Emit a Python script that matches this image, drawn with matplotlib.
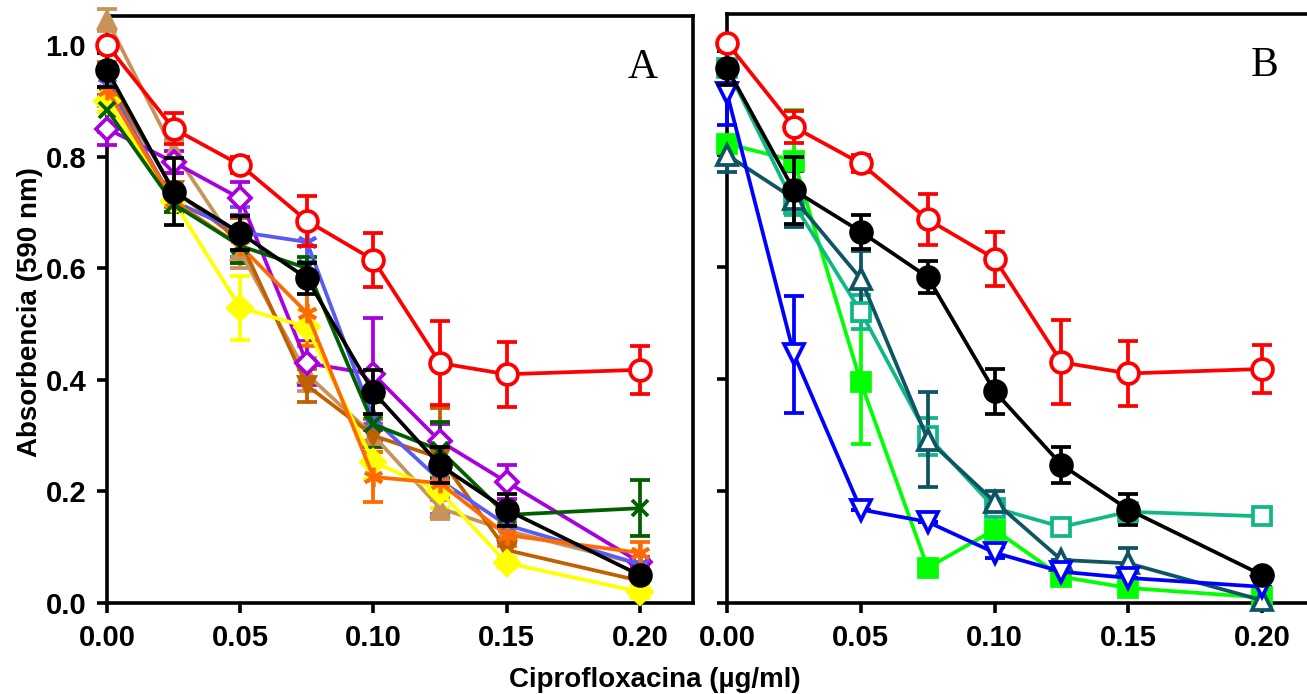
import numpy as np
import matplotlib
matplotlib.use("Agg")
import matplotlib.pyplot as plt
from matplotlib.ticker import FormatStrFormatter

# concentrations (µg/ml)
conc = [0.0, 0.025, 0.05, 0.075, 0.10, 0.125, 0.15, 0.20]

# shared series (both panels)
ctrl = [1.00, 0.85, 0.785, 0.685, 0.615, 0.43, 0.41, 0.418]
ctrl_err = [0.0, 0.028, 0.015, 0.045, 0.048, 0.075, 0.058, 0.043]
ref = [0.955, 0.737, 0.663, 0.582, 0.378, 0.247, 0.167, 0.05]
ref_err = [0.03, 0.06, 0.03, 0.028, 0.04, 0.032, 0.028, 0.0]

# panel A
a_purple = [0.85, 0.79, 0.725, 0.43, 0.41, 0.29, 0.217, 0.073]
a_purple_err = [0.03, 0.02, 0.03, 0.04, 0.10, 0.03, 0.03, 0.01]
a_blue = [0.93, 0.72, 0.665, 0.647, 0.33, 0.22, 0.14, 0.07]
a_blue_err = [0.02, 0.02, 0.045, 0.035, 0.04, 0.06, 0.03, 0.01]
a_green = [0.884, 0.715, 0.64, 0.60, 0.32, 0.274, 0.158, 0.17]
a_green_err = [0.04, 0.015, 0.03, 0.02, 0.04, 0.05, 0.02, 0.05]
a_orange = [0.92, 0.72, 0.64, 0.52, 0.226, 0.215, 0.122, 0.09]
a_orange_err = [0.03, 0.02, 0.03, 0.06, 0.045, 0.03, 0.02, 0.02]
a_yellow = [0.90, 0.72, 0.529, 0.495, 0.253, 0.20, 0.072, 0.02]
a_yellow_err = [0.02, 0.02, 0.057, 0.03, 0.03, 0.03, 0.01, 0.01]
a_tan = [1.045, 0.81, 0.63, 0.41, 0.30, 0.17, 0.13, 0.07]
a_tan_err = [0.02, 0.02, 0.03, 0.03, 0.02, 0.02, 0.02, 0.01]
a_brown = [0.94, 0.74, 0.65, 0.39, 0.30, 0.26, 0.095, 0.04]
a_brown_err = [0.03, 0.03, 0.04, 0.03, 0.03, 0.09, 0.02, 0.01]

# panel B
b_blue = [0.91, 0.444, 0.167, 0.145, 0.09, 0.056, 0.045, 0.029]
b_blue_err = [0.057, 0.105, 0.0, 0.0, 0.01, 0.0, 0.0, 0.0]
b_tri = [0.80, 0.722, 0.579, 0.292, 0.181, 0.077, 0.071, 0.005]
b_tri_err = [0.03, 0.05, 0.05, 0.085, 0.02, 0.0, 0.027, 0.0]
b_sq = [0.955, 0.713, 0.52, 0.298, 0.17, 0.136, 0.163, 0.155]
b_sq_err = [0.01, 0.02, 0.03, 0.033, 0.01, 0.0, 0.0, 0.0]
b_lime = [0.82, 0.79, 0.394, 0.063, 0.131, 0.047, 0.027, 0.01]
b_lime_err = [0.0, 0.09, 0.11, 0.0, 0.05, 0.0, 0.0, 0.0]

plt.rcParams.update({
    "font.family": ["Liberation Sans Narrow", "Liberation Sans", "DejaVu Sans"],
    "font.weight": "bold",
    "axes.linewidth": 2.6,
    "xtick.major.width": 2.6, "ytick.major.width": 2.6,
    "xtick.major.size": 7, "ytick.major.size": 7,
    "xtick.labelsize": 21, "ytick.labelsize": 21,
})

LW = 2.7
AST = (6, 2, 0)


def series(ax, y, err, color, marker, filled=True, ms=12, z=3):
    ax.errorbar(conc, y, yerr=err, color=color, lw=LW, elinewidth=LW,
                capsize=7.5, capthick=LW, marker=marker, ms=ms,
                mfc=color if filled else "white", mec=color, mew=LW,
                clip_on=False, zorder=z)


fig = plt.figure(figsize=(13.07, 6.94), dpi=100)
axA = fig.add_axes([0.0819, 0.131, 0.4484, 0.846])
axB = fig.add_axes([0.5563, 0.131, 0.4503, 0.849])

# ── panel A ──
series(axA, a_tan, a_tan_err, "#c8935a", "^")
series(axA, a_brown, a_brown_err, "#c06000", "v")
series(axA, a_purple, a_purple_err, "#a800e0", "D", filled=False, ms=11)
series(axA, a_blue, a_blue_err, "#5a5af5", AST, ms=14)
series(axA, a_yellow, a_yellow_err, "#ffff00", "D", ms=12)
series(axA, a_orange, a_orange_err, "#ff6a00", AST, ms=14)
series(axA, a_green, a_green_err, "#006000", "x", ms=12)
series(axA, ref, ref_err, "black", "o", ms=15, z=5)
series(axA, ctrl, ctrl_err, "#ff0000", "o", filled=False, ms=15, z=6)

# ── panel B ──
series(axB, b_lime, b_lime_err, "#00ff00", "s", ms=13)
series(axB, b_sq, b_sq_err, "#10b885", "s", filled=False, ms=13)
series(axB, b_tri, b_tri_err, "#0e5463", "^", filled=False, ms=14)
series(axB, b_blue, b_blue_err, "#0000ff", "v", filled=False, ms=14)
series(axB, ref, ref_err, "black", "o", ms=15, z=5)
series(axB, ctrl, ctrl_err, "#ff0000", "o", filled=False, ms=15, z=6)

for ax in (axA, axB):
    ax.set_xlim(0, 0.22)
    ax.set_ylim(0, 1.052)
    ax.set_xticks([0, 0.05, 0.10, 0.15, 0.20])
    ax.set_yticks([0, 0.2, 0.4, 0.6, 0.8, 1.0])
    ax.xaxis.set_major_formatter(FormatStrFormatter("%.2f"))
    ax.yaxis.set_major_formatter(FormatStrFormatter("%.1f"))
    ax.tick_params(direction="out", pad=8)
    for lab in ax.get_xticklabels() + ax.get_yticklabels():
        lab.set_fontweight("bold")

axB.tick_params(axis="y", labelleft=False)
axB.spines["right"].set_visible(False)

axA.text(0.201, 0.96, "A", fontsize=30, family="Liberation Serif",
         fontweight="normal", ha="center", va="center")
axB.text(0.201, 0.96, "B", fontsize=30, family="Liberation Serif",
         fontweight="normal", ha="center", va="center")

fig.text(0.023, 0.55, "Absorbencia (590 nm)", rotation=90, fontsize=20,
         family="Liberation Sans", fontweight="bold", ha="center", va="center")
fig.text(0.501, 0.02, "Ciprofloxacina (µg/ml)", fontsize=20,
         family="Liberation Sans", fontweight="bold", ha="center", va="center")

fig.savefig("out.png", dpi=100)
